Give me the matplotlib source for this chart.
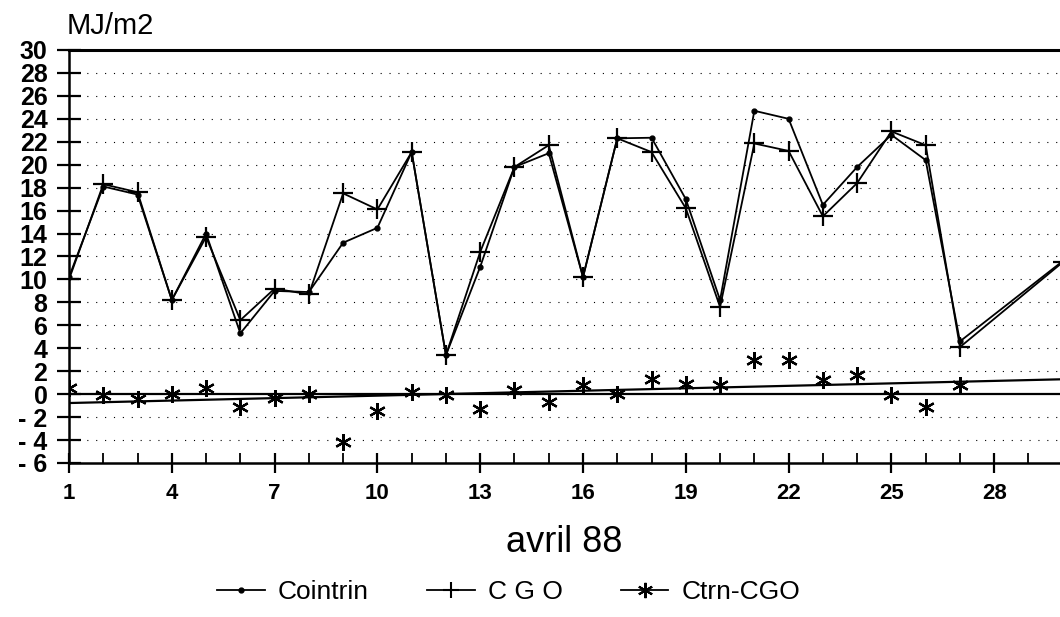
import numpy as np
import matplotlib
matplotlib.use('Agg')
import matplotlib.pyplot as plt
from matplotlib.lines import Line2D
from matplotlib.ticker import MultipleLocator

plt.rcParams['font.family'] = ['Liberation Sans', 'DejaVu Sans']

# daily global radiation, avril 88 (MJ/m2)
days = [1, 2, 3, 4, 5, 6, 7, 8, 9, 10, 11, 12, 13, 14, 15, 16, 17, 18, 19, 20,
        21, 22, 23, 24, 25, 26, 27, 30]
cointrin = [10.2, 18.1, 17.4, 8.2, 14.0, 5.3, 9.0, 8.9, 13.2, 14.5, 21.1, 3.4,
            11.1, 19.8, 21.0, 10.2, 22.3, 22.35, 17.0, 8.2, 24.7, 24.0, 16.5,
            19.8, 22.6, 20.4, 4.6, 11.6]
cgo = [10.0, 18.3, 17.6, 8.2, 13.7, 6.45, 9.2, 8.7, 17.5, 16.1, 21.1, 3.4,
       12.4, 19.8, 21.7, 10.2, 22.3, 21.1, 16.2, 7.6, 21.85, 21.2, 15.5,
       18.4, 22.9, 21.7, 4.1, 11.5]

diff_days = list(range(1, 28))
ctrn_cgo = [0.5, -0.1, -0.4, 0.05, 0.5, -1.1, -0.35, 0.0, -4.2, -1.5, 0.2, -0.1,
            -1.25, 0.35, -0.7, 0.8, 0.05, 1.35, 0.9, 0.8, 2.95, 3.0, 1.2, 1.65,
            -0.1, -1.1, 0.8]

xticks = [1, 4, 7, 10, 13, 16, 19, 22, 25, 28]
yticks = list(range(-6, 31, 2))
ylabels = [('- %d' % -v) if v < 0 else str(v) for v in yticks]

fig = plt.figure(figsize=(10.6, 6.17), dpi=100)
ax = fig.add_axes([0.0651, 0.2496, 0.9349, 0.6694])

ax.set_xlim(1, 29.92)
ax.set_ylim(-6, 30)

# sparse dotted grid
for v in yticks:
    if v not in (-6, 0, 30):
        ax.axhline(v, color='black', lw=0.8, ls=(0, (1, 7)), zorder=1)

ax.axhline(0, color='black', lw=1.6, zorder=2)

# trend of the difference
coef = np.polyfit(diff_days, ctrn_cgo, 1)
xt = np.array([1, 29.92])
ax.plot(xt, np.polyval(coef, xt), color='black', lw=1.6, zorder=2)

ax.plot(days, cointrin, color='black', lw=1.3, marker='o', ms=3.5, zorder=3)
ax.plot(days, cgo, color='black', lw=1.3, marker='+', ms=14, mew=1.6, zorder=3)
ax.plot(diff_days, ctrn_cgo, ls='none', color='black', marker=(6, 2, 0), ms=12,
        mew=1.6, zorder=3)

ax.spines['right'].set_visible(False)
ax.spines['top'].set_linewidth(2.2)
ax.spines['left'].set_linewidth(1.8)
ax.spines['bottom'].set_linewidth(1.8)

ax.set_yticks(yticks)
ax.set_yticklabels(ylabels, fontsize=18, fontweight='bold')
ax.tick_params(axis='y', direction='inout', length=17, width=1.6, pad=7)

ax.set_xticks(xticks)
ax.set_xticklabels([str(d) for d in xticks], fontsize=16, fontweight='bold')
ax.xaxis.set_minor_locator(MultipleLocator(1))
ax.tick_params(axis='x', which='major', direction='inout', length=15, width=1.6, pad=7)
ax.tick_params(axis='x', which='minor', direction='in', length=7, width=1.3)

ax.set_xlabel('avril 88', fontsize=26, labelpad=15)
fig.text(0.063, 0.958, 'MJ/m2', fontsize=21, va='center', ha='left')

handles = [
    Line2D([], [], color='black', lw=1.3, marker='o', ms=3.5),
    Line2D([], [], color='black', lw=1.3, marker='+', ms=12, mew=1.5),
    Line2D([], [], color='black', lw=1.3, marker=(6, 2, 0), ms=11, mew=1.5),
]
fig.legend(handles, ['Cointrin', 'C G O', 'Ctrn-CGO'], loc='center',
           bbox_to_anchor=(0.48, 0.04), ncol=3, frameon=False, fontsize=19,
           handlelength=1.8, columnspacing=2.2, handletextpad=0.5)

fig.savefig('out.png', dpi=100)
